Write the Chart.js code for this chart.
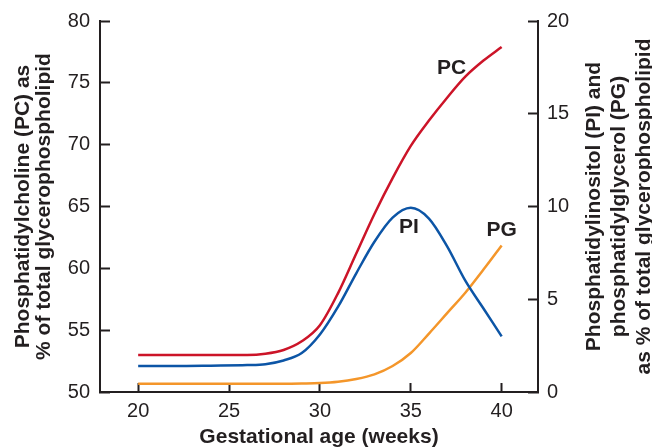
<!DOCTYPE html>
<html>
<head>
<meta charset="utf-8">
<script src="https://cdn.jsdelivr.net/npm/chart.js@4/dist/chart.umd.min.js"></script>
<style>
  html, body { margin: 0; padding: 0; background: #fff; }
  #wrap { width: 652px; height: 448px; }
</style>
</head>
<body>
<div id="wrap"><canvas id="lipidChart"></canvas></div>
<script>
// gestational age (weeks) and the three lipid curves
const weeks = [20, 22, 24, 26, 27, 28, 29, 30, 31, 32, 33, 34, 35, 36, 37, 38, 39, 40];
const pcValues = [53.0, 53.0, 53.0, 53.0, 53.1, 53.4, 54.1, 55.4, 58.0, 61.2, 64.4, 67.3, 69.9, 71.95, 73.8, 75.5, 76.8, 77.9];
const piValues = [1.4, 1.4, 1.42, 1.45, 1.5, 1.7, 2.1, 3.1, 4.6, 6.4, 8.1, 9.4, 9.93, 9.35, 7.85, 6.0, 4.5, 3.0];
const pgValues = [0.45, 0.45, 0.45, 0.45, 0.45, 0.45, 0.46, 0.48, 0.55, 0.7, 0.95, 1.4, 2.1, 3.15, 4.25, 5.35, 6.6, 7.9];

const weekTicks = [20, 25, 30, 35, 40];
const leftTicks = [50, 55, 60, 65, 70, 75, 80];
const rightTicks = [0, 5, 10, 15, 20];

// curve name labels, anchored in data units
const curveNames = ['PC', 'PI', 'PG'];
const curveNameWeeks = [37.25, 34.9, 40.0];
const curveNameValues = [76.2, 8.9, 8.7];
const curveNameAxes = ['y', 'y1', 'y1'];

const leftTitle = ['Phosphatidylcholine (PC) as', '% of total glycerophospholipid'];
const rightTitle = ['Phosphatidylinositol (PI) and', 'phosphatidylglycerol (PG)', 'as % of total glycerophospholipid'];
const xTitle = 'Gestational age (weeks)';

const ink = '#231f20';
const fontFamily = '"Liberation Sans", Arial, Helvetica, sans-serif';
Chart.defaults.font.family = fontFamily;
Chart.defaults.color = ink;

function pts(vals) {
    return weeks.map((w, i) => ({ x: w, y: vals[i] }));
}

const curveNamePlugin = {
    id: 'curveNames',
    afterDatasetsDraw(chart) {
        const ctx = chart.ctx;
        ctx.save();
        ctx.font = 'bold 21px ' + fontFamily;
        ctx.fillStyle = ink;
        ctx.textAlign = 'center';
        ctx.textBaseline = 'middle';
        curveNames.forEach((name, i) => {
            const x = chart.scales.x.getPixelForValue(curveNameWeeks[i]);
            const y = chart.scales[curveNameAxes[i]].getPixelForValue(curveNameValues[i]);
            ctx.fillText(name, x, y);
        });
        ctx.restore();
    }
};

// right axis title reads bottom-to-top like the left one
const rightTitlePlugin = {
    id: 'rightTitle',
    afterDraw(chart) {
        const ctx = chart.ctx;
        const area = chart.chartArea;
        const yMid = (area.top + area.bottom) / 2;
        const left = chart.scales.y1.left;
        ctx.save();
        ctx.font = 'bold 21px ' + fontFamily;
        ctx.fillStyle = ink;
        ctx.textAlign = 'center';
        ctx.textBaseline = 'middle';
        rightTitle.forEach((line, i) => {
            ctx.save();
            ctx.translate(left + 56 + i * 25, yMid);
            ctx.rotate(-Math.PI / 2);
            ctx.fillText(line, 0, 0);
            ctx.restore();
        });
        ctx.restore();
    }
};

// y axes: fixed width, and no extra top/bottom room for tick labels
function fixY(width) {
    return (s) => {
        s.width = width;
        s.paddingTop = 0;
        s.paddingBottom = 0;
    };
}

const config = {
    type: 'line',
    data: {
        datasets: [
            { label: 'PC', data: pts(pcValues), borderColor: '#cc1428', yAxisID: 'y' },
            { label: 'PI', data: pts(piValues), borderColor: '#0c55a6', yAxisID: 'y1' },
            { label: 'PG', data: pts(pgValues), borderColor: '#f4962a', yAxisID: 'y1' }
        ]
    },
    options: {
        responsive: true,
        maintainAspectRatio: false,
        animation: false,
        layout: { padding: { top: 21, left: 0, right: 0, bottom: 0 } },
        elements: {
            line: { borderWidth: 2.5, cubicInterpolationMode: 'monotone', fill: false },
            point: { radius: 0 }
        },
        plugins: {
            legend: { display: false },
            tooltip: { enabled: false }
        },
        scales: {
            x: {
                type: 'linear',
                min: 17.9,
                max: 42,
                afterBuildTicks: (s) => { s.ticks = weekTicks.map(v => ({ value: v })); },
                afterFit: (s) => { s.height = 56; },
                grid: { drawOnChartArea: false, tickLength: -9, tickWidth: 2, tickColor: ink },
                border: { color: ink, width: 2 },
                ticks: { padding: 16, font: { size: 20 }, color: ink },
                title: { display: true, text: xTitle, font: { size: 21, weight: 'bold', lineHeight: 1.0 }, padding: 0, color: ink }
            },
            y: {
                position: 'left',
                min: 50,
                max: 80,
                afterBuildTicks: (s) => { s.ticks = leftTicks.map(v => ({ value: v })); },
                afterFit: fixY(100),
                grid: { drawOnChartArea: false, tickLength: -10, tickWidth: 2, tickColor: ink },
                border: { color: ink, width: 2 },
                ticks: { padding: 20, font: { size: 20 }, color: ink },
                title: { display: true, text: leftTitle, font: { size: 21, weight: 'bold', lineHeight: 1.0 }, padding: { top: 13, bottom: 0 }, color: ink }
            },
            y1: {
                position: 'right',
                min: 0,
                max: 20,
                afterBuildTicks: (s) => { s.ticks = rightTicks.map(v => ({ value: v })); },
                afterFit: fixY(114),
                grid: { drawOnChartArea: false, tickLength: -10, tickWidth: 2, tickColor: ink },
                border: { color: ink, width: 2 },
                ticks: { padding: 19, font: { size: 20 }, color: ink }
            }
        }
    },
    plugins: [curveNamePlugin, rightTitlePlugin]
};

window.addEventListener('DOMContentLoaded', () => {
    new Chart(document.getElementById('lipidChart'), config);
});
</script>
</body>
</html>
